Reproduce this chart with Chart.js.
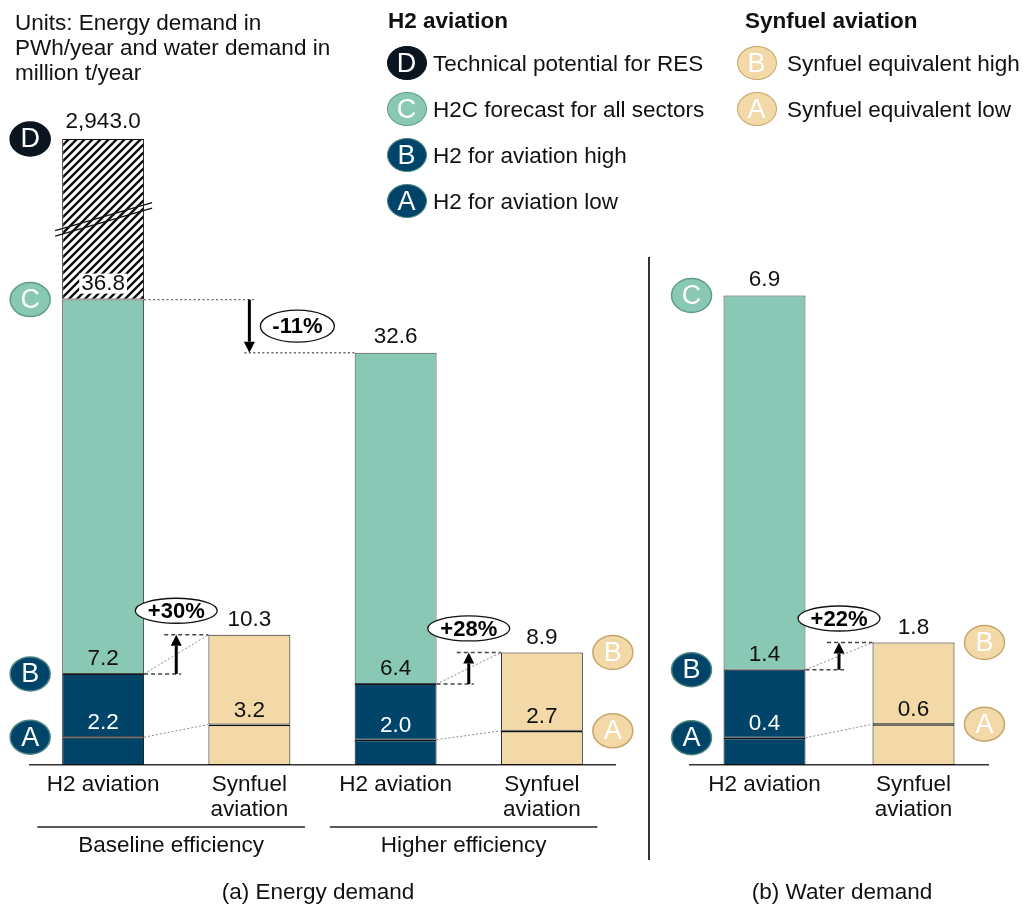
<!DOCTYPE html>
<html>
<head>
<meta charset="utf-8">
<script src="https://cdn.jsdelivr.net/npm/chart.js@4.4.1/dist/chart.umd.min.js"></script>
<style>
  body { margin: 0; background: #fff; }
  #page { position: relative; width: 1024px; height: 904px; overflow: hidden;
          font-family: "Liberation Sans", Arial, sans-serif; color: #111; }
  #page canvas { position: absolute; top: 0; }
  .units { position: absolute; left: 15px; top: 10px; font-size: 22.5px; line-height: 25px; }
  .lg-head { position: absolute; top: 8px; font-size: 22.5px; line-height: 25px; font-weight: bold; }
  .lg-text { position: absolute; font-size: 22.5px; line-height: 25px; white-space: nowrap; }
  .lg-dot { position: absolute; width: 38px; height: 32px; border-radius: 50%; border: 1.5px solid;
            color: #fff; font-size: 27px; line-height: 32px; text-align: center; }
  .divider { position: absolute; left: 648px; top: 257px; width: 2px; height: 603px; background: #333; }
  .panel-title { position: absolute; top: 879px; font-size: 22.5px; line-height: 25px; text-align: center; }
</style>
</head>
<body>
<div id="page">
  <canvas id="energyChart" width="650" height="904" style="left:0"></canvas>
  <canvas id="waterChart" width="374" height="904" style="left:650px"></canvas>
  <div class="units">Units: Energy demand in<br>PWh/year and water demand in<br>million t/year</div>
  <div class="lg-head" style="left:388px">H2 aviation</div>
  <div class="lg-head" style="left:745px">Synfuel aviation</div>
  <div class="divider"></div>
  <div class="panel-title" style="left:0;width:636px">(a) Energy demand</div>
  <div class="panel-title" style="left:660px;width:364px">(b) Water demand</div>
</div>
<script>
const FONT = '"Liberation Sans", Arial, sans-serif';
const NAVY = '#00446a', TEAL = '#88c8b5', TAN = '#f2d9a7', INK = '#111';

// Energy demand, PWh/year (H2 / synfuel pairs for two efficiency cases)
const energyLabels = ['H2 aviation', ['Synfuel', 'aviation'], 'H2 aviation', ['Synfuel', 'aviation']];
const energyGroups = ['Baseline efficiency', 'Higher efficiency'];
const energyLow = [2.2, 3.2, 2.0, 2.7];
const energyHigh = [7.2, 10.3, 6.4, 8.9];
const energyForecast = [36.8, null, 32.6, null];
const energyPotential = [2943.0, null, null, null];
const energyShifts = ['+30%', '+28%'];
const forecastShift = '-11%';
const ENERGY_AXIS_MAX = 49.5; // axis is broken above this

// Water demand, million t/year
const waterLabels = ['H2 aviation', ['Synfuel', 'aviation']];
const waterLow = [0.4, 0.6];
const waterHigh = [1.4, 1.8];
const waterForecast = [6.9, null];
const waterShifts = ['+22%'];
const WATER_AXIS_MAX = 9.2;

// Legend entries
const h2Legend = [['D', 'Technical potential for RES'], ['C', 'H2C forecast for all sectors'],
                  ['B', 'H2 for aviation high'], ['A', 'H2 for aviation low']];
const synfuelLegend = [['B', 'Synfuel equivalent high'], ['A', 'Synfuel equivalent low']];

const MARK_H2 = {
  D: { fill: '#0b1520', edge: '#0b1520' },
  C: { fill: TEAL, edge: '#5f9d8b' },
  B: { fill: NAVY, edge: '#4b8580' },
  A: { fill: NAVY, edge: '#4b8580' }
};
const MARK_SYN = { fill: TAN, edge: '#c8a66a' };

function fmt(v) {
  return v.toLocaleString('en-US', { minimumFractionDigits: 1, maximumFractionDigits: 1 });
}

function hatchPattern() {
  const c = document.createElement('canvas');
  c.width = c.height = 8;
  const g = c.getContext('2d');
  g.fillStyle = '#fff';
  g.fillRect(0, 0, 8, 8);
  g.strokeStyle = '#111';
  g.lineWidth = 2.4;
  g.beginPath();
  g.moveTo(0, 8); g.lineTo(8, 0);
  g.moveTo(-2, 2); g.lineTo(2, -2);
  g.moveTo(6, 10); g.lineTo(10, 6);
  g.stroke();
  return g.createPattern(c, 'repeat');
}

// --- drawing helpers -------------------------------------------------------
function line(ctx, x0, y0, x1, y1, color, width, dash) {
  ctx.save();
  ctx.strokeStyle = color;
  ctx.lineWidth = width;
  ctx.setLineDash(dash || []);
  ctx.beginPath();
  ctx.moveTo(x0, y0);
  ctx.lineTo(x1, y1);
  ctx.stroke();
  ctx.restore();
}

function arrow(ctx, x, from, to) {
  const dir = Math.sign(to - from), head = 11;
  ctx.save();
  ctx.strokeStyle = ctx.fillStyle = '#000';
  ctx.lineWidth = 3;
  ctx.beginPath();
  ctx.moveTo(x, from);
  ctx.lineTo(x, to - dir * head);
  ctx.stroke();
  ctx.beginPath();
  ctx.moveTo(x, to);
  ctx.lineTo(x - 5.5, to - dir * head);
  ctx.lineTo(x + 5.5, to - dir * head);
  ctx.closePath();
  ctx.fill();
  ctx.restore();
}

function badge(ctx, x, y, rx, ry, text) {
  ctx.save();
  ctx.beginPath();
  ctx.ellipse(x, y, rx, ry, 0, 0, Math.PI * 2);
  ctx.fillStyle = '#fff';
  ctx.fill();
  ctx.lineWidth = 1.3;
  ctx.strokeStyle = '#111';
  ctx.stroke();
  ctx.fillStyle = '#000';
  ctx.font = 'bold 22px ' + FONT;
  ctx.textAlign = 'center';
  ctx.textBaseline = 'middle';
  ctx.fillText(text, x, y + 1);
  ctx.restore();
}

function marker(ctx, x, y, letter, style) {
  ctx.save();
  ctx.beginPath();
  ctx.ellipse(x, y, 20, 17, 0, 0, Math.PI * 2);
  ctx.fillStyle = style.fill;
  ctx.fill();
  ctx.lineWidth = 1.5;
  ctx.strokeStyle = style.edge;
  ctx.stroke();
  ctx.fillStyle = '#fff';
  ctx.font = '27px ' + FONT;
  ctx.textAlign = 'center';
  ctx.textBaseline = 'middle';
  ctx.fillText(letter, x, y + 1);
  ctx.restore();
}

function valueLabel(ctx, text, x, y, color, boxed) {
  ctx.save();
  ctx.font = '22.5px ' + FONT;
  ctx.textAlign = 'center';
  ctx.textBaseline = 'middle';
  if (boxed) {
    const w = ctx.measureText(text).width + 4;
    ctx.fillStyle = '#fff';
    ctx.fillRect(x - w / 2, y - 10, w, 20);
  }
  ctx.fillStyle = color;
  ctx.fillText(text, x, y);
  ctx.restore();
}

// Value labels sit just above the level they describe
function drawValues(chart, low, high, forecast, potential) {
  const ctx = chart.ctx, y = chart.scales.y;
  const bars = chart.getDatasetMeta(0).data;
  low.forEach((v, i) => {
    const bx = bars[i].x;
    valueLabel(ctx, fmt(v), bx, y.getPixelForValue(v) - 14, i % 2 === 0 ? '#fff' : INK);
    valueLabel(ctx, fmt(high[i]), bx, y.getPixelForValue(high[i]) - 15, INK);
    const hasPotential = potential && potential[i] != null;
    if (forecast[i] != null) {
      valueLabel(ctx, fmt(forecast[i]), bx, y.getPixelForValue(forecast[i]) - 16, INK, hasPotential);
    }
    if (hasPotential) {
      const top = chart.getDatasetMeta(3).data[i].y;
      valueLabel(ctx, fmt(potential[i]), bx, top - 17, INK);
    }
  });
}

// Arrow + percentage from H2 "high" to the synfuel equivalent
function drawShift(chart, h2, syn, low, high, text) {
  const ctx = chart.ctx, y = chart.scales.y;
  const bars = chart.getDatasetMeta(0).data;
  const x0 = bars[h2].x + bars[h2].width / 2;
  const x1 = bars[syn].x - bars[syn].width / 2;
  const ax = (x0 + x1) / 2;
  const yH = y.getPixelForValue(high[h2]), yS = y.getPixelForValue(high[syn]);
  line(ctx, x0, yH, x1, yS, '#8a8a8a', 1, [2, 2]);
  line(ctx, x0, y.getPixelForValue(low[h2]), x1, y.getPixelForValue(low[syn]), '#8a8a8a', 1, [2, 2]);
  line(ctx, x0, yH, ax + 5, yH, '#444', 1.5, [4, 3]);
  line(ctx, ax - 12, yS, x1, yS, '#444', 1.5, [4, 3]);
  arrow(ctx, ax, yH, yS);
  badge(ctx, ax, yS - 24, 41, 12.5, text);
}

function drawMarkers(chart, index, side, levels, styleFor) {
  const bar = chart.getDatasetMeta(0).data[index];
  const x = side === 'left' ? bar.x - bar.width / 2 - 32 : bar.x + bar.width / 2 + 30;
  levels.forEach(([letter, py]) => marker(chart.ctx, x, py, letter, styleFor(letter)));
}

function chartOptions(axisMax, padLeft, padRight, barPct) {
  return {
    responsive: false,
    animation: false,
    layout: { padding: { top: 139, bottom: 904 - 765 - 60, left: padLeft, right: padRight } },
    plugins: { legend: { display: false }, tooltip: { enabled: false } },
    datasets: {
      bar: { grouped: false, categoryPercentage: 1, barPercentage: barPct,
             borderWidth: 1, borderColor: '#333', borderSkipped: false }
    },
    scales: {
      x: {
        offset: true,
        grid: { display: false, drawTicks: false },
        border: { display: true, color: '#333', width: 1.5 },
        ticks: { color: INK, padding: 7, maxRotation: 0, autoSkip: false,
                 font: { family: FONT, size: 22.5, lineHeight: 1.11 } },
        afterFit(scale) { scale.height = 60; }
      },
      y: { display: false, min: 0, max: axisMax }
    }
  };
}

function barDatasets(low, high, forecast) {
  const fillFor = low.map((v, i) => (i % 2 === 0 ? NAVY : TAN));
  return [
    { label: 'low', data: low.map(v => [0, v]), backgroundColor: fillFor, borderColor: '#111',
      borderWidth: { top: 1.6, left: 1, right: 1, bottom: 1 } },
    { label: 'high', data: high.map((v, i) => [low[i], v]), backgroundColor: fillFor, borderColor: '#1a1a1a' },
    { label: 'forecast', data: forecast.map((v, i) => (v == null ? null : [high[i], v])), backgroundColor: TEAL, borderColor: '#444' }
  ];
}

// --- energy demand ---------------------------------------------------------
const energySets = barDatasets(energyLow, energyHigh, energyForecast);
energySets.push({
  label: 'potential',
  data: energyPotential.map((v, i) => (v == null ? null : [energyForecast[i], Math.min(v, ENERGY_AXIS_MAX)])),
  backgroundColor: hatchPattern(),
  borderColor: '#111'
});

const energyOverlay = {
  id: 'energyOverlay',
  afterDatasetsDraw(chart) {
    const ctx = chart.ctx, x = chart.scales.x, y = chart.scales.y;
    const bars = chart.getDatasetMeta(0).data;
    const pot = chart.getDatasetMeta(3).data[0];

    // axis break across the hatched bar
    const left = pot.x - pot.width / 2, right = pot.x + pot.width / 2;
    const by = (pot.y + pot.base) / 2;
    [-2.8, 2.8].forEach(off => line(ctx, left - 7, by + 14 + off, right + 8, by - 14 + off, '#111', 1.3));

    // forecast change between efficiency cases
    const y0 = y.getPixelForValue(energyForecast[0]), y1 = y.getPixelForValue(energyForecast[2]);
    const ax = x.getPixelForValue(1);
    line(ctx, bars[0].x + bars[0].width / 2, y0, ax + 6, y0, '#666', 1.3, [2, 2.5]);
    line(ctx, ax - 5, y1, bars[2].x - bars[2].width / 2, y1, '#666', 1.3, [2, 2.5]);
    arrow(ctx, ax, y0, y1);
    badge(ctx, ax + 48, (y0 + y1) / 2, 37, 16, forecastShift);

    drawShift(chart, 0, 1, energyLow, energyHigh, energyShifts[0]);
    drawShift(chart, 2, 3, energyLow, energyHigh, energyShifts[1]);
    drawValues(chart, energyLow, energyHigh, energyForecast, energyPotential);

    drawMarkers(chart, 0, 'left', [
      ['D', pot.y],
      ['C', y.getPixelForValue(energyForecast[0])],
      ['B', y.getPixelForValue(energyHigh[0])],
      ['A', y.getPixelForValue(energyLow[0])]
    ], l => MARK_H2[l]);
    drawMarkers(chart, 3, 'right', [
      ['B', y.getPixelForValue(energyHigh[3])],
      ['A', y.getPixelForValue(energyLow[3])]
    ], () => MARK_SYN);
  },
  afterDraw(chart) {
    // efficiency case brackets under the category labels
    const ctx = chart.ctx, x = chart.scales.x;
    const w = x.getPixelForValue(1) - x.getPixelForValue(0);
    const base = chart.chartArea.bottom;
    energyGroups.forEach((name, g) => {
      const l = x.getPixelForValue(g * 2) - 0.45 * w;
      const r = x.getPixelForValue(g * 2 + 1) + 0.38 * w;
      line(ctx, l, base + 62, r, base + 62, '#222', 1.5);
      ctx.save();
      ctx.font = '22.5px ' + FONT;
      ctx.fillStyle = INK;
      ctx.textAlign = 'center';
      ctx.textBaseline = 'middle';
      ctx.fillText(name, (l + r) / 2, base + 81);
      ctx.restore();
    });
  }
};

new Chart(document.getElementById('energyChart'), {
  type: 'bar',
  data: { labels: energyLabels, datasets: energySets },
  options: chartOptions(ENERGY_AXIS_MAX, 30, 35, 0.56),
  plugins: [energyOverlay]
});

// --- water demand ----------------------------------------------------------
const waterOverlay = {
  id: 'waterOverlay',
  afterDatasetsDraw(chart) {
    const y = chart.scales.y;
    drawShift(chart, 0, 1, waterLow, waterHigh, waterShifts[0]);
    drawValues(chart, waterLow, waterHigh, waterForecast, null);
    drawMarkers(chart, 0, 'left', [
      ['C', y.getPixelForValue(waterForecast[0])],
      ['B', y.getPixelForValue(waterHigh[0])],
      ['A', y.getPixelForValue(waterLow[0])]
    ], l => MARK_H2[l]);
    drawMarkers(chart, 1, 'right', [
      ['B', y.getPixelForValue(waterHigh[1])],
      ['A', y.getPixelForValue(waterLow[1])]
    ], () => MARK_SYN);
  }
};

new Chart(document.getElementById('waterChart'), {
  type: 'bar',
  data: { labels: waterLabels, datasets: barDatasets(waterLow, waterHigh, waterForecast) },
  options: chartOptions(WATER_AXIS_MAX, 40, 36, 0.55),
  plugins: [waterOverlay]
});

// --- legend ----------------------------------------------------------------
const page = document.getElementById('page');
function legendRows(entries, dotX, textX, styleFor) {
  entries.forEach(([letter, text], k) => {
    const cy = 63 + k * 46;
    const style = styleFor(letter);
    const dot = document.createElement('div');
    dot.className = 'lg-dot';
    dot.textContent = letter;
    dot.style.left = (dotX - 20.5) + 'px';
    dot.style.top = (cy - 17.5) + 'px';
    dot.style.background = style.fill;
    dot.style.borderColor = style.edge;
    page.appendChild(dot);
    const label = document.createElement('div');
    label.className = 'lg-text';
    label.textContent = text;
    label.style.left = textX + 'px';
    label.style.top = (cy - 12.5) + 'px';
    page.appendChild(label);
  });
}
legendRows(h2Legend, 407, 433, l => MARK_H2[l]);
legendRows(synfuelLegend, 757, 787, () => MARK_SYN);
</script>
</body>
</html>
